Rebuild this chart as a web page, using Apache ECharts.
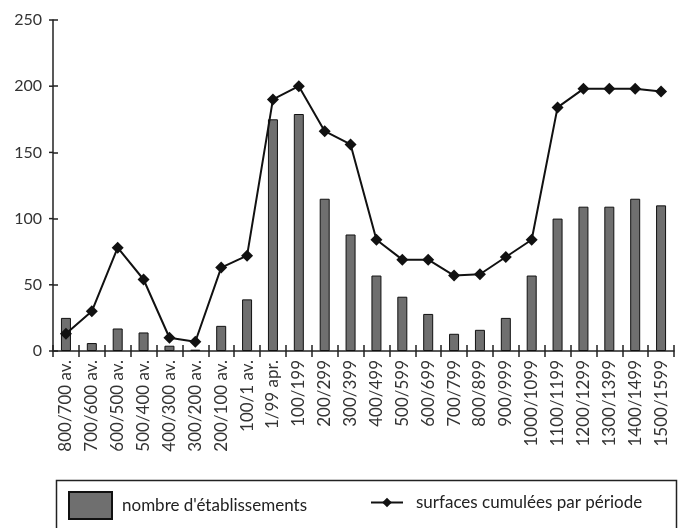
<!DOCTYPE html>
<html>
<head>
<meta charset="utf-8">
<script src="https://cdn.jsdelivr.net/npm/echarts@6/dist/echarts.min.js"></script>
<style>
  html, body { margin: 0; padding: 0; background: #fff; }
  #chart { width: 685px; height: 528px; }
</style>
</head>
<body>
<div id="chart"></div>
<script>
const periods = ['800/700 av.', '700/600 av.', '600/500 av.', '500/400 av.', '400/300 av.', '300/200 av.',
  '200/100 av.', '100/1 av.', '1/99 apr.', '100/199', '200/299', '300/399', '400/499', '500/599',
  '600/699', '700/799', '800/899', '900/999', '1000/1099', '1100/1199', '1200/1299', '1300/1399',
  '1400/1499', '1500/1599'];
const etablissements = [25, 6, 17, 14, 4, 1, 19, 39, 175, 179, 115, 88, 57, 41, 28, 13, 16, 25, 57, 100, 109, 109, 115, 110];
const surfaces = [13, 30, 78, 54, 10, 7, 63, 72, 190, 200, 166, 156, 84, 69, 69, 57, 58, 71, 84, 184, 198, 198, 198, 196];
const yTicks = [0, 50, 100, 150, 200, 250];

const chart = echarts.init(document.getElementById('chart'));
const labelFont = 'Lato, "DejaVu Sans", sans-serif';
const ink = '#222';
const gridTop = 20, gridBottom = 177;
const gridHeight = 528 - gridTop - gridBottom;

const option = {
  animation: false,
  grid: { left: 53, right: 11, top: gridTop, bottom: gridBottom, containLabel: false },
  xAxis: [{
    type: 'category',
    data: periods,
    axisLine: { lineStyle: { color: ink, width: 1.5 } },
    axisTick: { show: true, interval: 0, length: 6, lineStyle: { color: ink, width: 1.5 } },
    axisLabel: { rotate: 90, margin: 9, fontSize: 17, color: '#333', fontFamily: labelFont, interval: 0 }
  }, {
    // top axis moved down to the baseline: upper half of the crossing ticks
    type: 'category',
    data: periods,
    position: 'top',
    offset: -gridHeight,
    axisLine: { show: false },
    axisTick: { show: true, interval: 0, length: 6, lineStyle: { color: ink, width: 1.5 } },
    axisLabel: { show: false }
  }],
  yAxis: {
    type: 'value',
    min: yTicks[0],
    max: yTicks[yTicks.length - 1],
    interval: 50,
    splitLine: { show: false },
    axisLine: { show: true, lineStyle: { color: ink, width: 1.5 } },
    axisTick: { show: true, inside: true, length: 5, lineStyle: { color: ink, width: 1.5 } },
    axisLabel: {
      margin: 0,
      formatter: v => '{v|' + v + '}{t| }',
      rich: {
        v: { fontSize: 16, color: '#333', fontFamily: labelFont, padding: [0, 7, 0, 0] },
        t: { width: 4, height: 1.5, backgroundColor: ink }
      }
    }
  },
  legend: [{
    data: [{ name: 'nombre d\'établissements', icon: 'rect' }],
    left: 63, top: 486,
    itemWidth: 43, itemHeight: 27,
    textStyle: { fontSize: 17, color: '#222', fontFamily: labelFont, padding: [0, 0, 0, 5] }
  }, {
    data: ['surfaces cumulées par période'],
    left: 365, top: 489,
    itemWidth: 32, itemHeight: 12,
    textStyle: { fontSize: 17, color: '#222', fontFamily: labelFont, padding: [0, 0, 0, 8] }
  }],
  graphic: [{
    type: 'rect',
    left: 54, top: 478,
    shape: { width: 620, height: 60 },
    style: { fill: 'none', stroke: ink, lineWidth: 1.5 }
  }],
  series: [{
    name: 'nombre d\'établissements',
    type: 'bar',
    data: etablissements,
    barWidth: 10,
    itemStyle: { color: '#6f6f6f', borderColor: '#111', borderWidth: 1 }
  }, {
    name: 'surfaces cumulées par période',
    type: 'line',
    data: surfaces,
    symbol: 'diamond',
    symbolSize: 12,
    lineStyle: { color: '#111', width: 2 },
    itemStyle: { color: '#111' }
  }]
};

chart.setOption(option);
</script>
</body>
</html>
